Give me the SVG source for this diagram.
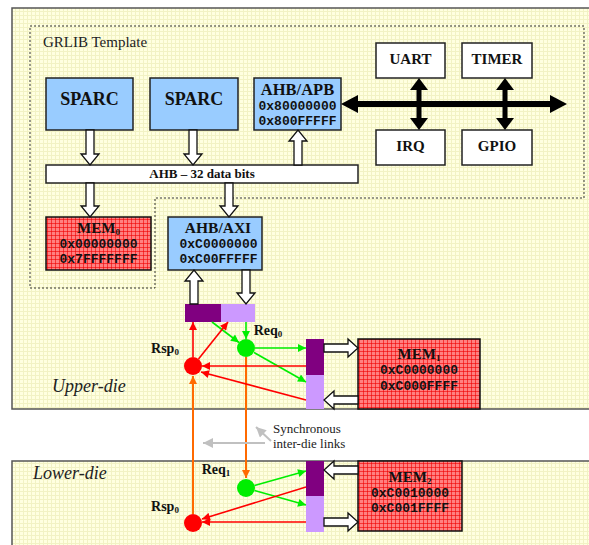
<svg xmlns="http://www.w3.org/2000/svg" width="589" height="545" viewBox="0 0 589 545">
<defs>
<pattern id="bg" width="4" height="4" patternUnits="userSpaceOnUse">
<rect width="4" height="4" fill="#FFFFE0"/>
<path d="M3.5 0V4M0 3.5H4" stroke="#F2F2C4" stroke-width="1"/>
</pattern>
<pattern id="memp" width="4" height="4" patternUnits="userSpaceOnUse">
<rect width="4" height="4" fill="#FF8080"/>
<path d="M3.5 0V4M0 3.5H4" stroke="#F00000" stroke-width="0.6"/>
</pattern>
<marker id="ag" viewBox="0 0 10 10" refX="10" refY="5" markerWidth="9" markerHeight="8" orient="auto" markerUnits="userSpaceOnUse"><path d="M0 0L10 5L0 10Z" fill="#00EE00"/></marker>
<marker id="ar" viewBox="0 0 10 10" refX="10" refY="5" markerWidth="9" markerHeight="8" orient="auto" markerUnits="userSpaceOnUse"><path d="M0 0L10 5L0 10Z" fill="#FF0000"/></marker>
<marker id="ao" viewBox="0 0 10 10" refX="10" refY="5" markerWidth="9" markerHeight="8" orient="auto" markerUnits="userSpaceOnUse"><path d="M0 0L10 5L0 10Z" fill="#FF6A00"/></marker>
<marker id="agr" viewBox="0 0 10 10" refX="10" refY="5" markerWidth="11" markerHeight="10" orient="auto" markerUnits="userSpaceOnUse"><path d="M0 0L10 5L0 10Z" fill="#C0C0C0"/></marker>
</defs>
<style>
.die{fill:url(#bg);stroke:#555;stroke-width:1.5}
.blue{fill:#99CCFF;stroke:#222;stroke-width:1.5}
.mem{fill:url(#memp);stroke:#111;stroke-width:1.5}
.wbox{fill:#fff;stroke:#222;stroke-width:1.5}
.hol{fill:#fff;stroke:#111;stroke-width:1.3}
.b{font-family:"Liberation Serif",serif;font-weight:bold;fill:#111;text-anchor:middle}
.m{font-family:"Liberation Mono",monospace;font-weight:bold;font-size:13px;fill:#111;text-anchor:middle}
.r{font-family:"Liberation Serif",serif;fill:#222}
.g{stroke:#00EE00;stroke-width:1.6;fill:none;marker-end:url(#ag)}
.rd{stroke:#FF0000;stroke-width:1.6;fill:none;marker-end:url(#ar)}
.o{stroke:#FF6A00;stroke-width:2;fill:none;marker-end:url(#ao)}
.gr{stroke:#C0C0C0;stroke-width:2;fill:none;marker-end:url(#agr)}
.dk{fill:#800080}
.lt{fill:#CC99FF}
</style>
<rect width="589" height="545" fill="#fff"/>
<g id="upper-die">
<rect class="die" x="12" y="8" width="600" height="401"/>
<text class="r" x="52" y="392" font-size="18" font-style="italic">Upper-die</text>
</g>
<g id="lower-die">
<rect class="die" x="12" y="461" width="600" height="100"/>
<text class="r" x="33" y="479" font-size="18" font-style="italic">Lower-die</text>
</g>
<g id="grlib-template">
<path d="M30 26H584V198H155V288H30Z" fill="none" stroke="#333" stroke-width="1" stroke-dasharray="2,2"/>
<text class="r" x="43" y="47" font-size="15">GRLIB Template</text>
</g>
<g id="sparc1"><rect class="blue" x="46" y="78" width="87" height="52"/><text class="b" x="89.5" y="105" font-size="18">SPARC</text></g>
<g id="sparc2"><rect class="blue" x="150" y="78" width="88" height="52"/><text class="b" x="194" y="105" font-size="18">SPARC</text></g>
<g id="ahb-apb"><rect class="blue" x="254" y="78" width="87" height="52"/>
<text class="b" x="297.5" y="95" font-size="16.5">AHB/APB</text>
<text class="m" x="297.5" y="110">0x80000000</text>
<text class="m" x="297.5" y="124.5">0x800FFFFF</text></g>
<g id="ahb-bus"><rect class="wbox" x="46" y="165" width="312" height="18"/><text class="b" x="202" y="178" font-size="13">AHB – 32 data bits</text></g>
<g id="uart"><rect class="wbox" x="376" y="43" width="69" height="35"/><text class="b" x="410.5" y="64" font-size="15">UART</text></g>
<g id="timer"><rect class="wbox" x="462" y="43" width="70" height="35"/><text class="b" x="497" y="64" font-size="15">TIMER</text></g>
<g id="irq"><rect class="wbox" x="376" y="130" width="69" height="35"/><text class="b" x="410.5" y="151" font-size="15">IRQ</text></g>
<g id="gpio"><rect class="wbox" x="462" y="130" width="70" height="35"/><text class="b" x="497" y="151" font-size="15">GPIO</text></g>
<g id="mem0"><rect class="mem" x="46" y="217" width="105" height="53"/>
<text class="b" x="98.5" y="233" font-size="15">MEM<tspan font-size="9" dy="2">0</tspan></text>
<text class="m" x="98.5" y="247.5">0x00000000</text>
<text class="m" x="98.5" y="263">0x7FFFFFFF</text></g>
<g id="ahb-axi"><rect class="blue" x="168" y="217" width="94" height="53"/>
<text class="b" x="218" y="233" font-size="15.5">AHB/AXI</text>
<text class="m" x="218.5" y="247.5">0xC0000000</text>
<text class="m" x="218.5" y="263">0xC00FFFFF</text></g>
<g id="port-upper"><rect class="dk" x="185" y="304" width="36" height="18"/><rect class="lt" x="221" y="304" width="34" height="18"/></g>
<g id="mem1-port"><rect class="dk" x="306" y="339" width="18" height="36"/><rect class="lt" x="306" y="375" width="18" height="34"/></g>
<g id="mem1"><rect class="mem" x="358" y="339" width="122" height="70"/>
<text class="b" x="419" y="359" font-size="15">MEM<tspan font-size="9" dy="2">1</tspan></text>
<text class="m" x="419" y="374">0xC0000000</text>
<text class="m" x="419" y="389.5">0xC000FFFF</text></g>
<g id="mem2-port"><rect class="dk" x="306" y="461" width="18" height="35"/><rect class="lt" x="306" y="496" width="18" height="36"/></g>
<g id="mem2"><rect class="mem" x="358" y="461" width="104" height="70"/>
<text class="b" x="410" y="482" font-size="15">MEM<tspan font-size="9" dy="2">2</tspan></text>
<text class="m" x="410" y="497">0xC0010000</text>
<text class="m" x="410" y="512">0xC001FFFF</text></g>
<g id="connectors">
<path class="hol" d="M86 130V154H81L90 165L99 154H94V130Z"/>
<path class="hol" d="M189 130V154H184L193 165L202 154H197V130Z"/>
<path class="hol" d="M294 165V141H289L298 130L307 141H302V165Z"/>
<path class="hol" d="M86 183V206H81L90 217L99 206H94V183Z"/>
<path class="hol" d="M225 183V206H220L229 217L238 206H233V183Z"/>
<path class="hol" d="M242 270V293H237L246 304L255 293H250V270Z"/>
<path class="hol" d="M190 304V281H185L194 270L203 281H198V304Z"/>
<path class="hol" d="M324 344H348V339L358 348L348 357V352H324Z"/>
<path class="hol" d="M358 396H334V391L324 400L334 409V404H358Z"/>
<path class="hol" d="M358 466H334V461L324 470L334 479V474H358Z"/>
<path class="hol" d="M324 518H348V513L358 522L348 531V526H324Z"/>
<g fill="#000">
<rect x="357" y="101" width="194" height="6"/>
<path d="M341 104L358 95V113Z"/><path d="M567 104L550 95V113Z"/>
<rect x="416.5" y="89" width="5" height="30"/>
<path d="M419 78L410 90H428Z"/><path d="M419 130L410 118H428Z"/>
<rect x="502.5" y="89" width="5" height="30"/>
<path d="M505 78L496 90H514Z"/><path d="M505 130L496 118H514Z"/>
</g>
<line class="o" x1="193" y1="514" x2="193" y2="376"/>
<line class="o" x1="246" y1="357" x2="246" y2="478"/>
<line class="g" x1="212" y1="322" x2="239" y2="342.5"/>
<line class="g" x1="246" y1="322" x2="246" y2="339"/>
<line class="g" x1="255" y1="348" x2="306" y2="348"/>
<line class="g" x1="254" y1="352.5" x2="306" y2="382"/>
<line class="rd" x1="193" y1="357" x2="193" y2="322"/>
<line class="rd" x1="198.5" y1="359" x2="228" y2="322"/>
<line class="rd" x1="306" y1="366" x2="202" y2="366"/>
<line class="rd" x1="306" y1="400" x2="201" y2="372"/>
<line class="g" x1="254.5" y1="485.5" x2="306" y2="471"/>
<line class="g" x1="254.5" y1="490.5" x2="306" y2="505"/>
<line class="rd" x1="306" y1="487" x2="202" y2="519"/>
<line class="rd" x1="306" y1="522" x2="202" y2="522"/>
<line class="gr" x1="271" y1="441" x2="256" y2="427"/>
<line class="gr" x1="265" y1="443" x2="203" y2="443"/>
</g>
<g id="req0"><circle cx="246" cy="348" r="9" fill="#00EE00"/><text class="b" x="268" y="335" font-size="14">Req<tspan font-size="9" dy="2">0</tspan></text></g>
<g id="rsp0-upper"><circle cx="193" cy="366" r="9" fill="#FF0000"/><text class="b" x="165" y="353" font-size="14">Rsp<tspan font-size="9" dy="2">0</tspan></text></g>
<g id="req1"><circle cx="246" cy="488" r="9" fill="#00EE00"/><text class="b" x="216" y="474" font-size="14">Req<tspan font-size="9" dy="2">1</tspan></text></g>
<g id="rsp0-lower"><circle cx="193" cy="523" r="9" fill="#FF0000"/><text class="b" x="165" y="511" font-size="14">Rsp<tspan font-size="9" dy="2">0</tspan></text></g>
<g id="sync-label">
<text class="r" x="273" y="433" font-size="13">Synchronous</text>
<text class="r" x="273" y="448" font-size="13">inter-die links</text>
</g>
</svg>
